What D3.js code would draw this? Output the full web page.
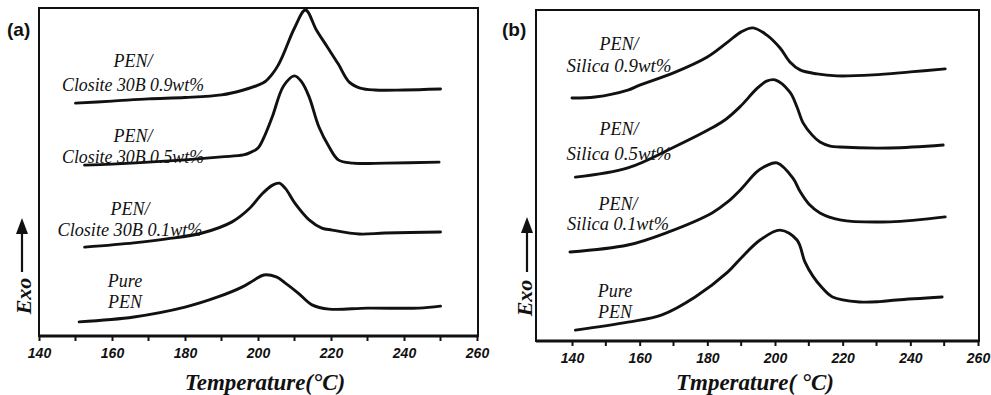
<!DOCTYPE html>
<html>
<head>
<meta charset="utf-8">
<script src="https://cdn.jsdelivr.net/npm/d3@7/dist/d3.min.js"></script>
<style>
  html, body { margin: 0; padding: 0; background: #fff; }
  svg { display: block; }
</style>
</head>
<body>
<div id="chart"></div>
<script>
// Temperatures (°C) and exotherm signal (a.u., 0-100 of panel height)
// Panel (a): PEN / Closite 30B
const tempA09 = [150, 160, 170, 180, 190, 196, 200, 202, 204, 205.5, 207, 210, 213, 216, 219, 222, 225, 228, 232, 240, 250];
const sigA09  = [71.0, 71.6, 72.3, 72.7, 73.5, 75.0, 76.5, 77.6, 80.0, 82.5, 86.0, 93.9, 99.4, 93.3, 88.1, 82.9, 77.4, 75.6, 75.0, 75.0, 75.3];
const tempA05 = [152.5, 160, 170, 180, 190, 196, 198, 200, 202, 204, 207, 210, 212, 214, 216.7, 219.5, 222, 226, 235, 249.6];
const sigA05  = [52.1, 52.4, 53.0, 53.7, 54.6, 55.2, 56.0, 57.3, 61.5, 67.1, 76.2, 79.3, 77.4, 72.9, 63.7, 57.6, 53.7, 52.7, 52.7, 53.0];
const tempA01 = [152.5, 166, 175, 184.7, 192.9, 197.5, 201.1, 204, 205.8, 207.5, 210.1, 214, 217.5, 220.3, 227.7, 234.8, 250];
const sigA01  = [27.1, 28.4, 29.6, 31.4, 34.8, 38.7, 43.3, 46.0, 46.6, 45.0, 40.5, 35.4, 32.9, 32.3, 31.1, 31.4, 31.7];
const tempApure = [151, 166, 180, 189, 195.6, 199, 201.6, 205, 207.4, 211, 214.8, 219.5, 230, 244, 250];
const sigApure  = [4.3, 5.8, 8.8, 11.9, 14.9, 17.1, 18.6, 18.0, 16.2, 13.1, 9.5, 8.2, 8.5, 8.5, 9.1];

// Panel (b): PEN / Silica
const tempB09 = [140, 146.8, 156.5, 160, 170, 180, 186, 190, 193.5, 197.6, 201.5, 204.4, 207.4, 212.4, 218.3, 229, 240, 250.3];
const sigB09  = [73.4, 73.7, 75.8, 77.3, 81.0, 85.8, 90.3, 93.4, 94.6, 92.4, 88.5, 84.3, 81.9, 80.7, 80.1, 80.4, 81.3, 82.2];
const tempB05 = [141, 156.5, 169.6, 181.4, 185.5, 189.7, 194.7, 197.5, 200, 204.4, 206.5, 208.3, 211, 213.3, 216.3, 219.2, 234, 249.7];
const sigB05  = [49.5, 52.3, 58.3, 64.4, 67.0, 70.8, 76.3, 78.5, 78.9, 75.2, 70.7, 65.9, 62.2, 60.1, 58.9, 58.6, 58.3, 59.2];
const tempB01 = [139.4, 156.5, 168.4, 181.4, 186, 190, 194.6, 197.5, 200.6, 205.3, 207.5, 210, 213.3, 219.2, 234, 250.3];
const sigB01  = [26.9, 29.0, 32.9, 38.7, 42.0, 45.9, 51.1, 53.0, 53.8, 49.2, 45.0, 41.4, 38.7, 36.6, 36.0, 37.5];
const tempBpure = [141, 156.5, 166.6, 176.4, 186, 190, 195.6, 201.5, 206.5, 208.8, 211.2, 214, 217, 225, 231, 236, 249.4];
const sigBpure  = [3.3, 5.7, 7.9, 13.3, 20.8, 25.1, 30.5, 33.5, 30.5, 24.0, 19.6, 16.0, 13.3, 11.8, 11.9, 12.4, 13.3];

// Curve labels (two lines each)
const labelsA = [["PEN/", "Closite 30B 0.9wt%"], ["PEN/", "Closite 30B 0.5wt%"], ["PEN/", "Closite 30B 0.1wt%"], ["Pure", "PEN"]];
const labelsB = [["PEN/", "Silica 0.9wt%"], ["PEN/", "Silica 0.5wt%"], ["PEN/", "Silica 0.1wt%"], ["Pure", "PEN"]];

// Axis ticks
const majorTicks = [140, 160, 180, 200, 220, 240, 260];
const minorTicks = [150, 170, 190, 210, 230, 250];

const width = 991, height = 395;

const svg = d3.select("#chart").append("svg")
    .attr("width", width)
    .attr("height", height);

const panels = [
    {
        tag: "(a)", tagX: 7, tagY: 36,
        frame: { x0: 39, x1: 478, y0: 8, y1: 336 },
        xDomain: [140, 260], xRange: [39, 477],
        title: "Temperature(°C)", titleX: 265,
        exoX: 31, exoY: 296, arrowX: 22, arrowTop: 218, arrowBottom: 272,
        series: [[tempA09, sigA09], [tempA05, sigA05], [tempA01, sigA01], [tempApure, sigApure]],
        labels: labelsA,
        // label anchor: [centreX, firstBaseline, secondBaseline]
        labelPos: [[133, 67, 91], [133, 142, 163], [130, 215, 236], [125, 287, 308]],
        wideText: [142, 142, 145, 0]
    },
    {
        tag: "(b)", tagX: 502, tagY: 36,
        frame: { x0: 536, x1: 979, y0: 10, y1: 341 },
        xDomain: [140, 260], xRange: [572, 978],
        title: "Tmperature( °C)", titleX: 755,
        exoX: 532, exoY: 298, arrowX: 527, arrowTop: 217, arrowBottom: 272,
        series: [[tempB09, sigB09], [tempB05, sigB05], [tempB01, sigB01], [tempBpure, sigBpure]],
        labels: labelsB,
        labelPos: [[619, 50, 72], [619, 135, 160], [618, 210, 230], [615, 297, 318]],
        wideText: [105, 105, 102, 0]
    }
];

panels.forEach(p => {
    const g = svg.append("g");
    const f = p.frame;

    const x = d3.scaleLinear().domain(p.xDomain).range(p.xRange);
    const y = d3.scaleLinear().domain([0, 100]).range([f.y1, f.y0]);

    // Frame
    g.append("rect")
        .attr("x", f.x0).attr("y", f.y0)
        .attr("width", f.x1 - f.x0).attr("height", f.y1 - f.y0)
        .attr("fill", "none")
        .attr("stroke", "#111")
        .attr("stroke-width", 2);
    g.append("line")
        .attr("x1", f.x0).attr("x2", f.x1)
        .attr("y1", f.y1).attr("y2", f.y1)
        .attr("stroke", "#111")
        .attr("stroke-width", 3);

    // Bottom axis with labelled ticks
    const axis = g.append("g")
        .attr("transform", `translate(0,${f.y1})`)
        .call(d3.axisBottom(x)
            .tickValues(majorTicks)
            .tickSize(5)
            .tickPadding(7)
            .tickFormat(d3.format("d")));
    axis.select(".domain").remove();
    axis.selectAll(".tick line").attr("stroke", "#111").attr("stroke-width", 2);
    axis.selectAll(".tick text")
        .attr("fill", "#111")
        .style("font-family", "'Liberation Sans', Arial, sans-serif")
        .style("font-weight", "bold")
        .style("font-style", "italic")
        .style("font-size", "14px");

    // Minor ticks
    g.append("g")
        .selectAll("line")
        .data(minorTicks)
        .enter().append("line")
        .attr("x1", d => x(d)).attr("x2", d => x(d))
        .attr("y1", f.y1).attr("y2", f.y1 + 5)
        .attr("stroke", "#111")
        .attr("stroke-width", 2);

    // Curves
    const line = d3.line()
        .x(d => x(d[0]))
        .y(d => y(d[1]))
        .curve(d3.curveCatmullRom.alpha(0.5));

    p.series.forEach(([temps, sig]) => {
        g.append("path")
            .datum(d3.zip(temps, sig))
            .attr("d", line)
            .attr("fill", "none")
            .attr("stroke", "#111")
            .attr("stroke-width", 2.9)
            .attr("stroke-linejoin", "round")
            .attr("stroke-linecap", "round");
    });

    // Curve labels
    p.labels.forEach((lbl, i) => {
        const [cx, b1, b2] = p.labelPos[i];
        g.append("text")
            .attr("x", cx).attr("y", b1)
            .attr("text-anchor", "middle")
            .style("font-family", "'Liberation Serif', 'Times New Roman', serif")
            .style("font-style", "italic")
            .style("font-size", "18px")
            .attr("fill", "#111")
            .text(lbl[0]);
        const t2 = g.append("text")
            .attr("x", cx).attr("y", b2)
            .attr("text-anchor", "middle")
            .style("font-family", "'Liberation Serif', 'Times New Roman', serif")
            .style("font-style", "italic")
            .style("font-size", "18px")
            .attr("fill", "#111")
            .text(lbl[1]);
        if (p.wideText[i]) {
            t2.attr("textLength", p.wideText[i]).attr("lengthAdjust", "spacingAndGlyphs");
        }
    });

    // Panel tag
    g.append("text")
        .attr("x", p.tagX).attr("y", p.tagY)
        .style("font-family", "'Liberation Sans', Arial, sans-serif")
        .style("font-weight", "bold")
        .style("font-size", "19px")
        .attr("fill", "#111")
        .text(p.tag);

    // X title
    g.append("text")
        .attr("x", p.titleX).attr("y", 390)
        .attr("text-anchor", "middle")
        .style("font-family", "'Liberation Serif', 'Times New Roman', serif")
        .style("font-weight", "bold")
        .style("font-style", "italic")
        .style("font-size", "23px")
        .attr("fill", "#111")
        .text(p.title);

    // Exo label + arrow
    g.append("text")
        .attr("transform", `translate(${p.exoX},${p.exoY}) rotate(-90)`)
        .attr("text-anchor", "middle")
        .style("font-family", "'Liberation Serif', 'Times New Roman', serif")
        .style("font-weight", "bold")
        .style("font-style", "italic")
        .style("font-size", "22px")
        .attr("fill", "#111")
        .text("Exo");
    g.append("line")
        .attr("x1", p.arrowX).attr("x2", p.arrowX)
        .attr("y1", p.arrowBottom).attr("y2", p.arrowTop + 12)
        .attr("stroke", "#111")
        .attr("stroke-width", 2.2);
    g.append("path")
        .attr("d", `M${p.arrowX},${p.arrowTop} L${p.arrowX - 6},${p.arrowTop + 16} L${p.arrowX + 6},${p.arrowTop + 16} Z`)
        .attr("fill", "#111");
});
</script>
</body>
</html>
